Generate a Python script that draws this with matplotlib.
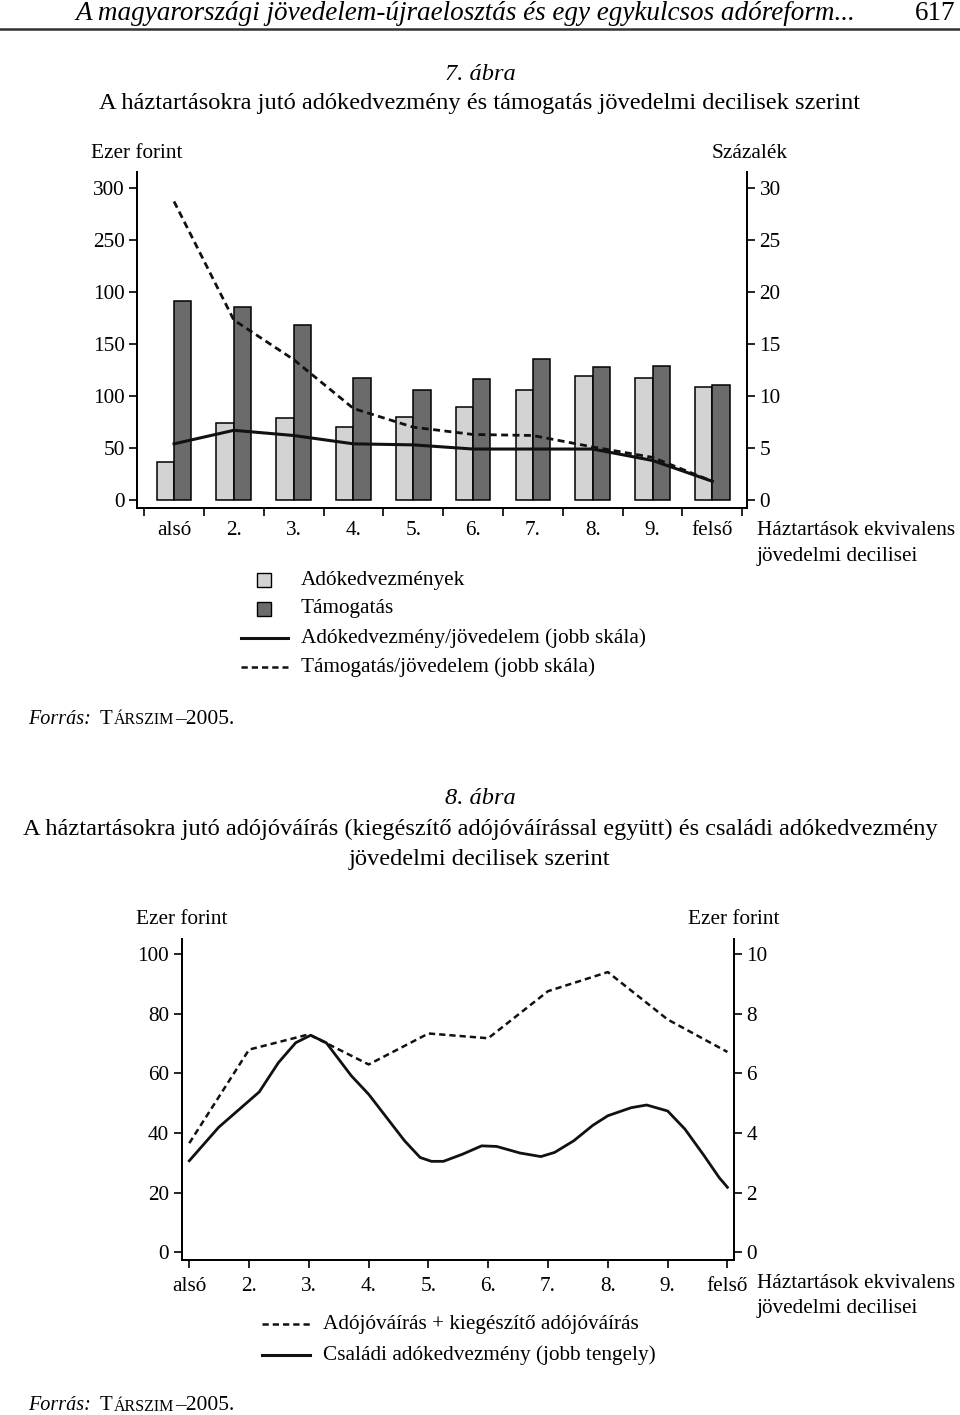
import matplotlib
matplotlib.use("Agg")
import matplotlib.pyplot as plt
from matplotlib.lines import Line2D
from matplotlib.patches import Rectangle

plt.rcParams['font.family'] = ['Liberation Serif', 'DejaVu Serif']

# ---- data, chart 7 ----
deciles = ['alsó', '2.', '3.', '4.', '5.', '6.', '7.', '8.', '9.', 'felső']
adokedv = [37, 74, 79, 70, 80, 89, 106, 119, 117, 109]          # ezer Ft
tamogatas = [191, 186, 168, 117, 106, 116, 136, 128, 129, 111]   # ezer Ft
adokedv_pct = [5.4, 6.7, 6.2, 5.4, 5.3, 4.9, 4.9, 4.9, 3.8, 1.8]
tamog_pct = [28.7, 17.3, 13.5, 8.8, 7.0, 6.3, 6.2, 5.1, 4.1, 1.8]
left_ticks1 = [0, 50, 100, 150, 200, 250, 300]
left_labels1 = ['0', '50', '100', '150', '100', '250', '300']
right_ticks1 = [0, 5, 10, 15, 20, 25, 30]

# ---- data, chart 8 ----
adojov = [36.6, 68.0, 73.1, 63.0, 73.4, 71.8, 87.6, 94.0, 78.1, 67.2]   # ezer Ft
csal_x = [1.00, 1.49, 2.17, 2.49, 2.78, 3.03, 3.29, 3.71, 4.00, 4.60, 4.86, 5.05,
          5.25, 5.57, 5.89, 6.14, 6.53, 6.88, 7.11, 7.43, 7.75, 8.00, 8.39, 8.65,
          9.00, 9.29, 9.61, 9.86, 10.00]
csal_y = [3.07, 4.19, 5.38, 6.36, 7.03, 7.28, 7.03, 5.92, 5.30, 3.74, 3.18, 3.05,
          3.05, 3.29, 3.57, 3.55, 3.33, 3.21, 3.35, 3.74, 4.26, 4.58, 4.85, 4.94,
          4.74, 4.13, 3.24, 2.51, 2.18]
left_ticks2 = [0, 20, 40, 60, 80, 100]
right_ticks2 = [0, 2, 4, 6, 8, 10]

W, H = 960, 1415
fig = plt.figure(figsize=(W / 100, H / 100), dpi=100)

FS = 15.3
TFS = 17.6
LIGHT = '#d3d3d3'
DARK = '#6b6b6b'
DASH = (0, (2.5, 1.6))


def ftext(x, y, s, **kw):
    kw.setdefault('fontsize', FS)
    kw.setdefault('va', 'center')
    return fig.text(x / W, 1 - y / H, s, **kw)


def box(x0, y0, x1, y1):
    return [x0 / W, 1 - y1 / H, (x1 - x0) / W, (y1 - y0) / H]


def style_axes(ax, axr):
    ax.spines['top'].set_visible(False)
    axr.spines['top'].set_visible(False)
    for a in (ax, axr):
        for sp in a.spines.values():
            sp.set_linewidth(1.3)
        a.tick_params(length=6, width=1.2, labelsize=FS, pad=3)


def forras(y):
    r = fig.canvas.get_renderer()
    t1 = ftext(28, y, 'Forrás:', style='italic', fontsize=14.5)
    x = 28 + t1.get_window_extent(r).width + 9
    t2 = ftext(x, y, 'T', fontsize=15)
    x += t2.get_window_extent(r).width + 1
    t3 = ftext(x, y + 1, 'ÁRSZIM', fontsize=11.5)
    x += t3.get_window_extent(r).width + 1
    ftext(x, y, '–2005.', fontsize=15.5)


# ---- page header ----
ftext(75, 14, 'A magyarországi jövedelem-újraelosztás és egy egykulcsos adóreform...',
      style='italic', fontsize=19.5)
ftext(955, 14, '617', fontsize=19.5, ha='right')
fig.add_artist(Line2D([0, 1], [1 - 29 / H] * 2, color='#333333', lw=1.8))

# ---- chart 7 ----
ftext(480, 75, '7. ábra', style='italic', ha='center', fontsize=TFS)
ftext(480, 104, 'A háztartásokra jutó adókedvezmény és támogatás jövedelmi decilisek szerint',
      ha='center', fontsize=TFS)
ftext(91, 153, 'Ezer forint')
ftext(712, 153, 'Százalék')

ax1 = fig.add_axes(box(137.3, 171.7, 747, 507.7))
ax1r = ax1.twinx()
xs = list(range(1, 11))
bw = 0.29
ax1.bar([x - bw / 2 for x in xs], adokedv, width=bw, color=LIGHT, edgecolor='black', lw=1.1)
ax1.bar([x + bw / 2 for x in xs], tamogatas, width=bw, color=DARK, edgecolor='black', lw=1.1)
ax1r.plot(xs, adokedv_pct, color='#111111', lw=2.2)
ax1r.plot(xs, tamog_pct, color='#111111', lw=2.0, ls=DASH)
ax1.set_xlim(0.386, 10.58)
ax1.set_ylim(-7.4, 315.6)
ax1r.set_ylim(-0.74, 31.56)
ax1.set_yticks(left_ticks1, left_labels1)
ax1r.set_yticks(right_ticks1)
ax1.set_xticks([x - 0.5 for x in range(1, 12)], [])
style_axes(ax1, ax1r)
for x, lab in zip(xs, deciles):
    ax1.text(x, -0.068, lab, transform=ax1.get_xaxis_transform(), ha='center',
             va='center', fontsize=FS)
ftext(757, 531, 'Háztartások ekvivalens')
ftext(757, 556, 'jövedelmi decilisei')

# legend, chart 7
fig.add_artist(Rectangle((257 / W, 1 - 587 / H), 14 / W, 14 / H, facecolor=LIGHT,
                         edgecolor='black', lw=1.0))
fig.add_artist(Rectangle((257 / W, 1 - 616 / H), 14 / W, 14 / H, facecolor=DARK,
                         edgecolor='black', lw=1.0))
fig.add_artist(Line2D([241 / W, 288 / W], [1 - 638 / H] * 2, color='#111111', lw=2.2))
fig.add_artist(Line2D([241 / W, 288 / W], [1 - 667 / H] * 2, color='#111111', lw=1.8,
                      ls=DASH))
ftext(301, 580, 'Adókedvezmények')
ftext(301, 609, 'Támogatás')
ftext(301, 638, 'Adókedvezmény/jövedelem (jobb skála)')
ftext(301, 667, 'Támogatás/jövedelem (jobb skála)')
forras(719)

# ---- chart 8 ----
ftext(480, 799, '8. ábra', style='italic', ha='center', fontsize=TFS)
ftext(480, 829, 'A háztartásokra jutó adójóváírás (kiegészítő adójóváírással együtt) '
      'és családi adókedvezmény', ha='center', fontsize=TFS)
ftext(480, 859, 'jövedelmi decilisek szerint', ha='center', fontsize=TFS)
ftext(136, 920, 'Ezer forint')
ftext(688, 920, 'Ezer forint')

ax2 = fig.add_axes(box(181.7, 939, 734, 1260))
ax2r = ax2.twinx()
ax2.plot(xs, adojov, color='#111111', lw=1.8, ls=DASH)
ax2r.plot(csal_x, csal_y, color='#111111', lw=2.0)
ax2.set_xlim(0.873, 10.11)
ax2.set_ylim(-2.6, 105.1)
ax2r.set_ylim(-0.26, 10.51)
ax2.set_yticks(left_ticks2)
ax2r.set_yticks(right_ticks2)
ax2.set_xticks(xs, deciles)
style_axes(ax2, ax2r)
ax2.tick_params(axis='x', pad=6)
ftext(757, 1283, 'Háztartások ekvivalens')
ftext(757, 1308, 'jövedelmi decilisei')

fig.add_artist(Line2D([262 / W, 310 / W], [1 - 1324 / H] * 2, color='#111111', lw=1.8,
                      ls=DASH))
fig.add_artist(Line2D([262 / W, 310 / W], [1 - 1355 / H] * 2, color='#111111', lw=2.2))
ftext(323, 1324, 'Adójóváírás + kiegészítő adójóváírás')
ftext(323, 1355, 'Családi adókedvezmény (jobb tengely)')
forras(1406)

fig.savefig('out.png', dpi=100)
